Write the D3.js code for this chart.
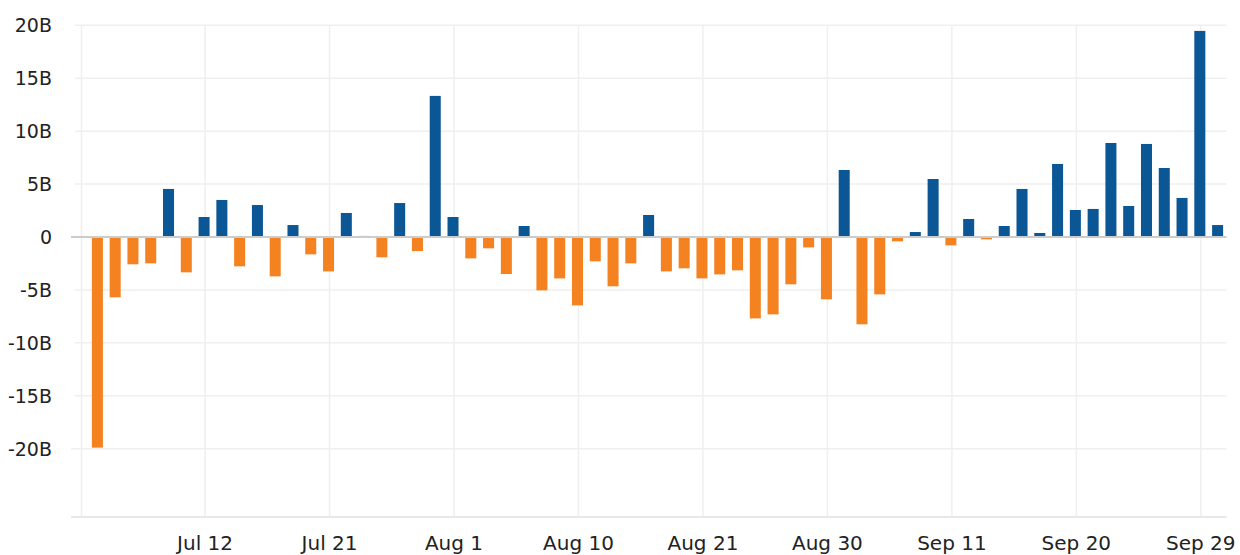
<!DOCTYPE html>
<html lang="en">
<head>
    <meta charset="UTF-8">
    <script src="https://d3js.org/d3.v7.min.js"></script>
    <style>
        body { margin: 0; background: #fff; }
        text { font-family: "DejaVu Sans", sans-serif; }
    </style>
</head>
<body>
    <svg id="chart" width="1240" height="555"></svg>
    <script>
        // Trading days, Jul 3 - Oct 2
        const dates = [
            "Jul 3", "Jul 5", "Jul 6", "Jul 7", "Jul 10", "Jul 11", "Jul 12", "Jul 13", "Jul 14", "Jul 17",
            "Jul 18", "Jul 19", "Jul 20", "Jul 21", "Jul 24", "Jul 25", "Jul 26", "Jul 27", "Jul 28", "Jul 31",
            "Aug 1", "Aug 2", "Aug 3", "Aug 4", "Aug 7", "Aug 8", "Aug 9", "Aug 10", "Aug 11", "Aug 14",
            "Aug 15", "Aug 16", "Aug 17", "Aug 18", "Aug 21", "Aug 22", "Aug 23", "Aug 24", "Aug 25", "Aug 28",
            "Aug 29", "Aug 30", "Aug 31", "Sep 1", "Sep 5", "Sep 6", "Sep 7", "Sep 8", "Sep 11", "Sep 12",
            "Sep 13", "Sep 14", "Sep 15", "Sep 18", "Sep 19", "Sep 20", "Sep 21", "Sep 22", "Sep 25", "Sep 26",
            "Sep 27", "Sep 28", "Sep 29", "Oct 2"
        ];

        // Net flow, billions
        const values = [
            -19.9, -5.7, -2.58, -2.49, 4.54, -3.34, 1.89, 3.5, -2.77, 3.02,
            -3.72, 1.13, -1.64, -3.25, 2.27, 0.1, -1.92, 3.21, -1.33, 13.33,
            1.89, -2.02, -1.07, -3.5, 1.04, -5.04, -3.91, -6.46, -2.3, -4.66,
            -2.49, 2.08, -3.25, -2.96, -3.91, -3.53, -3.15, -7.69, -7.31, -4.47,
            -0.98, -5.89, 6.33, -8.25, -5.42, -0.41, 0.47, 5.48, -0.79, 1.7,
            -0.22, 1.04, 4.54, 0.38, 6.9, 2.55, 2.65, 8.88, 2.93, 8.79,
            6.52, 3.69, 19.47, 1.13
        ];

        const tickDates = ["Jul 12", "Jul 21", "Aug 1", "Aug 10", "Aug 21", "Aug 30", "Sep 11", "Sep 20", "Sep 29"];
        const yTicks = [20, 15, 10, 5, 0, -5, -10, -15, -20];

        const data = dates.map((d, i) => ({ date: d, value: values[i] }));

        const svg = d3.select("#chart");
        const plotLeft = 81.5, plotRight = 1226.5;

        const x = d3.scaleBand()
            .domain(dates)
            .range([88.5, plotRight])
            .paddingInner(0.38)
            .paddingOuter(0.19);

        const y = d3.scaleLinear()
            .domain([-20, 20])
            .range([448.7, 25.3]);

        const bottomY = y(-26.45);

        // horizontal grid
        svg.append("g")
            .selectAll("line")
            .data(yTicks.filter(d => d !== 0))
            .join("line")
            .attr("x1", d => d === -20 ? 71 : 75)
            .attr("x2", plotRight)
            .attr("y1", d => y(d))
            .attr("y2", d => y(d))
            .attr("stroke", "#efefef")
            .attr("stroke-width", 1.5);

        // vertical grid
        const vg = svg.append("g");
        vg.append("line")
            .attr("x1", plotLeft).attr("x2", plotLeft)
            .attr("y1", y(20)).attr("y2", bottomY)
            .attr("stroke", "#efefef").attr("stroke-width", 1.5);
        vg.selectAll("line.v")
            .data(tickDates)
            .join("line")
            .attr("class", "v")
            .attr("x1", d => x(d) + x.bandwidth() / 2 + 1)
            .attr("x2", d => x(d) + x.bandwidth() / 2 + 1)
            .attr("y1", y(20))
            .attr("y2", bottomY)
            .attr("stroke", "#efefef")
            .attr("stroke-width", 1.5);

        // bottom axis line
        svg.append("line")
            .attr("x1", 71).attr("x2", plotRight)
            .attr("y1", bottomY).attr("y2", bottomY)
            .attr("stroke", "#e8e8e8").attr("stroke-width", 2);

        // bars
        svg.append("g")
            .selectAll("rect")
            .data(data)
            .join("rect")
            .attr("x", d => x(d.date))
            .attr("y", d => y(Math.max(0, d.value)))
            .attr("width", x.bandwidth())
            .attr("height", d => Math.abs(y(d.value) - y(0)))
            .attr("fill", d => d.value >= 0 ? "#0b5796" : "#f58220");

        // zero line
        svg.append("line")
            .attr("x1", 71).attr("x2", plotRight)
            .attr("y1", y(0)).attr("y2", y(0))
            .attr("stroke", "#cccccc").attr("stroke-width", 2);

        // y labels
        svg.append("g")
            .selectAll("text")
            .data(yTicks)
            .join("text")
            .attr("x", 52)
            .attr("y", d => y(d))
            .attr("dy", "0.36em")
            .attr("text-anchor", "end")
            .attr("fill", "#222")
            .style("font-size", "19px")
            .text(d => d === 0 ? "0" : d + "B");

        // x labels
        svg.append("g")
            .selectAll("text")
            .data(tickDates)
            .join("text")
            .attr("x", d => x(d) + x.bandwidth() / 2 + 1)
            .attr("y", 550)
            .attr("text-anchor", "middle")
            .attr("fill", "#222")
            .style("font-size", "20px")
            .text(d => d);
    </script>
</body>
</html>
